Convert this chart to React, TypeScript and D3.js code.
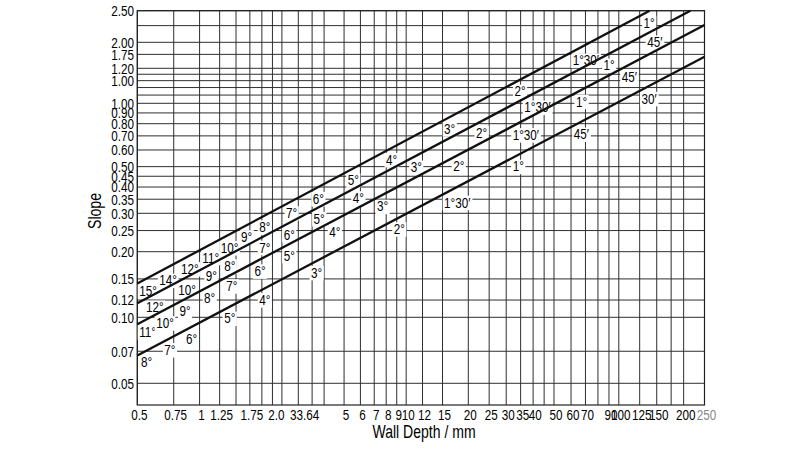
import { useEffect, useRef } from "react";
import * as d3 from "d3";

// grid lines of the log-log paper
const depthGrid = [0.5, 0.75, 1, 1.25, 1.5, 1.75, 2, 2.25, 2.5, 3, 3.5, 4, 5, 6, 7, 8, 9, 10, 12, 15, 20, 25, 30, 35, 40, 45, 50, 60, 70, 80, 90, 100, 125, 150, 175, 200, 250];
const slopeGrid = [0.05, 0.07, 0.1, 0.12, 0.15, 0.2, 0.25, 0.3, 0.35, 0.4, 0.45, 0.5, 0.6, 0.7, 0.8, 0.9, 1.0, 1.1, 1.2, 1.3, 1.4, 1.5, 1.75, 2.0, 2.25, 2.5];

// tick labels as printed on the original sheet
const depthTickValues = [0.5, 0.75, 1, 1.25, 1.75, 2.3, 3.15, 5, 6, 7, 8, 9, 10, 12, 15, 20, 25, 30, 35, 40, 50, 60, 70, 90, 100, 125, 150, 200, 250];
const depthTickLabels = ["0.5", "0.75", "1", "1.25", "1.75", "2.0", "33.64", "5", "6", "7", "8", "9", "10", "12", "15", "20", "25", "30", "35", "40", "50", "60", "70", "90", "100", "125", "150", "200", "250"];
const slopeTickValues = [2.5, 2.0, 1.75, 1.5, 1.3, 1.0, 0.9, 0.8, 0.7, 0.6, 0.5, 0.45, 0.4, 0.35, 0.3, 0.25, 0.2, 0.15, 0.12, 0.1, 0.07, 0.05];
const slopeTickLabels = ["2.50", "2.00", "1.75", "1.20", "1.00", "1.00", "0.90", "0.80", "0.70", "0.60", "0.50", "0.45", "0.40", "0.35", "0.30", "0.25", "0.20", "0.15", "0.12", "0.10", "0.07", "0.05"];

// the four lines: start / end (wall depth, slope)
const lineDepths = [[0.5, 139], [0.5, 215], [0.5, 250], [0.5, 250]];
const lineSlopes = [[0.143, 2.5], [0.116, 2.5], [0.093, 2.26], [0.067, 1.705]];

// angle marks along each line
const angleTexts = [
  ["15°", "14°", "12°", "11°", "10°", "9°", "8°", "7°", "6°", "5°", "4°", "3°", "2°", "1°30′", "1°"],
  ["12°", "10°", "9°", "8°", "7°", "6°", "5°", "4°", "3°", "2°", "1°30′", "1°", "45′"],
  ["11°", "10°", "9°", "8°", "7°", "6°", "5°", "4°", "3°", "2°", "1°30′", "1°", "45′"],
  ["8°", "7°", "6°", "5°", "4°", "3°", "2°", "1°30′", "1°", "45′", "30′"],
];
const angleDepths = [
  [0.505, 0.632, 0.804, 1.02, 1.25, 1.57, 1.92, 2.59, 3.49, 5.15, 7.9, 15.1, 32.4, 60.4, 129],
  [0.545, 0.78, 1.06, 1.3, 1.92, 2.52, 3.52, 5.45, 10.4, 21.5, 36, 84, 134],
  [0.505, 0.61, 0.79, 1.04, 1.33, 1.82, 2.52, 4.19, 7.14, 16.7, 31.8, 62.6, 102],
  [0.515, 0.668, 0.85, 1.3, 1.92, 3.42, 8.6, 15.1, 31.8, 61.1, 126],
];

const FONT = "'Liberation Sans', Arial, sans-serif";
const NARROW = 0.78; // squeeze Liberation Sans to look like a condensed Helvetica

export default function App() {
  const svgRef = useRef<SVGSVGElement>(null);

  useEffect(() => {
    if (!svgRef.current) return;
    const svg = d3.select(svgRef.current);
    svg.selectAll("*").remove();

    // the paper is not quite uniform, so both axes are piecewise log scales
    const x = d3.scaleLog().domain([0.5, 3, 20, 250]).range([137.3, 298.3, 468.3, 704.5]);
    const y = d3
      .scaleLog()
      .domain([0.0398, 0.1, 0.3, 1, 1.5, 2, 2.5])
      .range([405, 317.3, 213.3, 103.3, 68.3, 42.3, 10.7]);

    const left = x(0.5);
    const right = x(250);
    const top = y(2.5);
    const bottom = y(0.0398);

    const g = svg.append("g").style("font-family", FONT);

    // condensed text helper
    const label = (
      parent: d3.Selection<SVGGElement, unknown, null, undefined>,
      px: number,
      py: number,
      s: string,
      anchor: string,
      size: number,
      extra = "",
    ) => {
      const holder = parent
        .append("g")
        .attr("transform", `translate(${px},${py}) ${extra} scale(${NARROW},1)`);
      const t = holder
        .append("text")
        .attr("text-anchor", anchor)
        .style("font-size", `${size}px`)
        .style("fill", "#000")
        .text(s);
      return { holder, t };
    };

    // grid
    g.selectAll(".vgrid")
      .data(depthGrid)
      .join("line")
      .attr("x1", (d) => x(d))
      .attr("x2", (d) => x(d))
      .attr("y1", top)
      .attr("y2", bottom)
      .attr("stroke", "#2e2e2e")
      .attr("stroke-width", 1);

    g.selectAll(".hgrid")
      .data(slopeGrid)
      .join("line")
      .attr("x1", left)
      .attr("x2", right)
      .attr("y1", (d) => y(d))
      .attr("y2", (d) => y(d))
      .attr("stroke", "#2e2e2e")
      .attr("stroke-width", 1);

    g.append("rect")
      .attr("x", left)
      .attr("y", top)
      .attr("width", right - left)
      .attr("height", bottom - top)
      .attr("fill", "none")
      .attr("stroke", "#222")
      .attr("stroke-width", 1.2);

    // tick labels
    depthTickValues.forEach((d, i) => {
      const { t } = label(g, x(d) + 2, 420, depthTickLabels[i], "middle", 15);
      if (i === depthTickValues.length - 1) t.style("fill", "#888");
    });
    slopeTickValues.forEach((d, i) => {
      label(g, 134, y(d) + 5.3, slopeTickLabels[i], "end", 15);
    });

    // axis titles
    label(g, 424, 438, "Wall Depth / mm", "middle", 18);
    label(g, 101, 211, "Slope", "middle", 18, "rotate(-90)");

    // angle marks sit just under their line, left edge on the depth value
    lineDepths.forEach((dep, i) => {
      const x0 = x(dep[0]);
      const y0 = y(lineSlopes[i][0]);
      const x1 = x(dep[1]);
      const y1 = y(lineSlopes[i][1]);
      const onLine = (px: number) => y0 + ((px - x0) * (y1 - y0)) / (x1 - x0);

      angleDepths[i].forEach((d, j) => {
        const py = onLine(x(d));
        const { holder, t } = label(g, x(d) + 1, py + 13.2, angleTexts[i][j], "start", 15);
        const b = (t.node() as SVGTextElement).getBBox();
        holder
          .insert("rect", "text")
          .attr("x", b.x - 1.5 / NARROW)
          .attr("y", -11.8)
          .attr("width", b.width + 3 / NARROW)
          .attr("height", 14.5)
          .attr("fill", "#fff");
      });
    });

    // the lines themselves
    const lineGen = d3
      .line<[number, number]>()
      .x((p) => x(p[0]))
      .y((p) => y(p[1]));
    lineDepths.forEach((dep, i) => {
      const pts: [number, number][] = dep.map((d, k) => [d, lineSlopes[i][k]]);
      g.append("path")
        .datum(pts)
        .attr("d", lineGen)
        .attr("fill", "none")
        .attr("stroke", "#111")
        .attr("stroke-width", 2.3);
    });
  }, []);

  return (
    <svg
      ref={svgRef}
      width={800}
      height={450}
      style={{ position: "absolute", left: 0, top: 0, background: "#fff" }}
    ></svg>
  );
}
